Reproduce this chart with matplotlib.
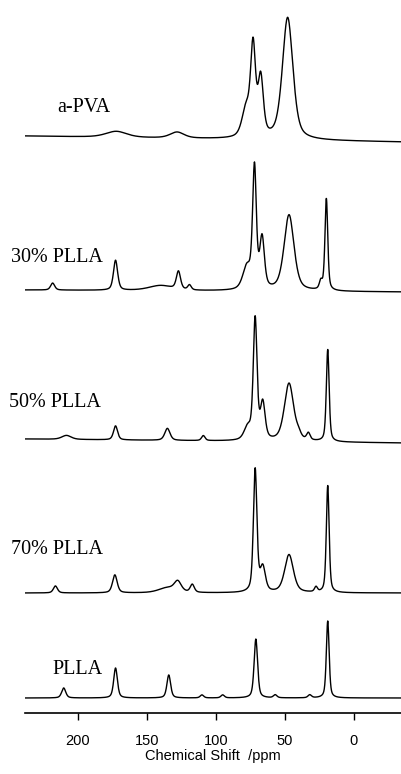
import matplotlib.pyplot as plt
import numpy as np

# sample names, top to bottom
labels = ["a-PVA", "30% PLLA", "50% PLLA", "70% PLLA", "PLLA"]

# baseline level of each trace (px above the axis line) at left / right end
base_left = [577, 423, 274, 120, 15]
base_right = [571, 421, 270, 120, 15]

# peaks: centre (ppm), height, FWHM (ppm)
pva_ppm = [73, 67.5, 78, 48, 172, 128]
pva_h = [88, 58, 28, 122, 6, 6]
pva_w = [4.2, 4.5, 7.0, 9.0, 18, 12]

p30_ppm = [72, 66.5, 77.5, 47, 20, 172.5, 127, 218, 24, 119, 140]
p30_h = [120, 50, 22, 76, 92, 30, 18, 7, 8, 5, 5]
p30_w = [3.2, 4.0, 7.0, 8.5, 2.4, 3.6, 3.6, 3.5, 2.5, 3.0, 20]

p50_ppm = [71.5, 66, 77, 47, 19, 172.5, 135, 109, 33, 208, 40]
p50_h = [121, 36, 12, 58, 92, 14, 12, 5, 7, 4, 4]
p50_w = [3.2, 4.0, 6.0, 8.0, 2.4, 3.5, 4.5, 3.0, 3.0, 8.0, 4.0]

p70_ppm = [71.5, 66, 47, 19, 173, 127.5, 117, 216, 27.5, 135]
p70_h = [123, 24, 38, 107, 18, 10, 8, 7, 5, 5]
p70_w = [3.0, 4.5, 7.5, 2.4, 4.0, 6.0, 3.5, 3.5, 2.5, 15]

plla_ppm = [71, 19, 172.5, 134, 210, 110, 95, 57, 32]
plla_h = [59, 77, 30, 23, 10, 3, 3, 3, 3]
plla_w = [3.0, 2.4, 3.2, 3.2, 3.5, 3.0, 3.0, 3.0, 3.0]

peaks = [
    (pva_ppm, pva_h, pva_w),
    (p30_ppm, p30_h, p30_w),
    (p50_ppm, p50_h, p50_w),
    (p70_ppm, p70_h, p70_w),
    (plla_ppm, plla_h, plla_w),
]

xticks = [200, 150, 100, 50, 0]
x_left, x_right = 238, -34


def lineshape(x, centres, heights, widths):
    y = np.zeros_like(x)
    for c, h, w in zip(centres, heights, widths):
        hw = w / 2
        lor = 1 / (1 + ((x - c) / hw) ** 2)
        gau = np.exp(-np.log(2) * ((x - c) / hw) ** 2)
        y += h * (0.5 * lor + 0.5 * gau)
    return y


def main() -> None:
    fig = plt.figure(figsize=(4.01, 7.74), dpi=100)
    ax = fig.add_axes([25 / 401, 61 / 774, 376 / 401, 708 / 774])

    x = np.linspace(x_left, x_right, 1500)
    for (c, h, w), b0, b1 in zip(peaks, base_left, base_right):
        base = b0 + (b1 - b0) * (x_left - x) / (x_left - x_right)
        ax.plot(x, base + lineshape(x, c, h, w), color="black", lw=1.0)

    label_pos = [(214.5, 606), (248, 455), (249.5, 311), (248, 163), (218, 43)]
    for lab, (lx, ly) in zip(labels, label_pos):
        ax.text(lx, ly, lab, family="Liberation Serif", fontsize=14.5,
                ha="left", va="center", clip_on=False)

    ax.set_xlim(x_left, x_right)
    ax.set_ylim(0, 708)
    ax.set_xticks(xticks)
    ax.set_xticklabels([str(t) for t in xticks], family="Liberation Sans", fontsize=10.5)
    ax.set_yticks([])
    for side in ("top", "left", "right"):
        ax.spines[side].set_visible(False)
    ax.spines["bottom"].set_linewidth(1.2)
    ax.tick_params(axis="x", direction="out", length=5, width=1, pad=10)
    ax.set_xlabel("Chemical Shift  /ppm", family="Liberation Sans", fontsize=10.5, labelpad=1)

    fig.savefig("out.png", dpi=100)


if __name__ == "__main__":
    main()
